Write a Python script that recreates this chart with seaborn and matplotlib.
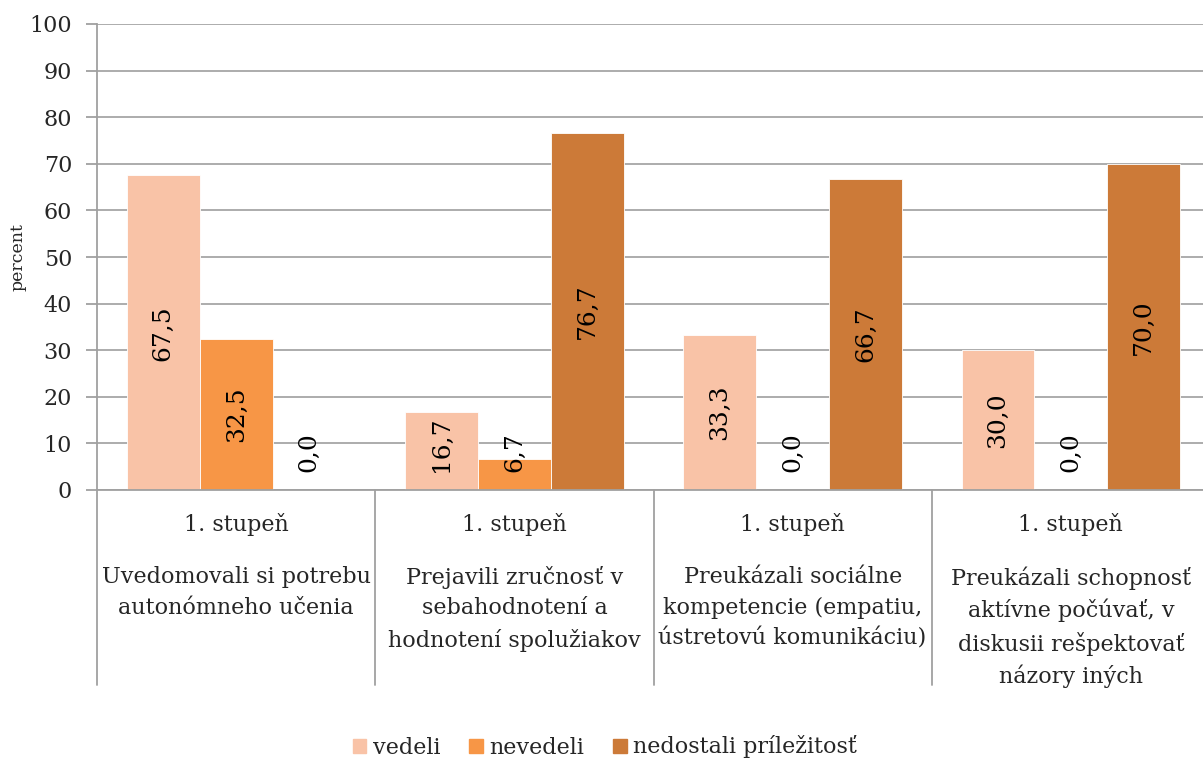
import numpy as np
import pandas as pd
import seaborn as sns
import matplotlib.pyplot as plt
import matplotlib.transforms as mtransforms

# data
categories = [
    "Uvedomovali si potrebu\nautonómneho učenia",
    "Prejavili zručnosť v\nsebahodnotení a\nhodnotení spolužiakov",
    "Preukázali sociálne\nkompetencie (empatiu,\nústretovú komunikáciu)",
    "Preukázali schopnosť\naktívne počúvať, v\ndiskusii rešpektovať\nnázory iných",
]
level = "1. stupeň"
series = ["vedeli", "nevedeli", "nedostali príležitosť"]
vedeli = [67.5, 16.7, 33.3, 30.0]
nevedeli = [32.5, 6.7, 0.0, 0.0]
nedostali = [0.0, 76.7, 66.7, 70.0]
colors = ["#F9C3A7", "#F79646", "#CC7A38"]

df = pd.DataFrame({
    "kategoria": categories * 3,
    "skupina": [s for s in series for _ in categories],
    "percent": vedeli + nevedeli + nedostali,
})

sns.set_theme(style="white")
plt.rcParams["font.family"] = ["DejaVu Serif"]
FS = 16

fig = plt.figure(figsize=(12.03, 7.62), dpi=100)
ax = fig.add_axes([97 / 1203, 1 - 490 / 762, (1210 - 97) / 1203, 466 / 762])

sns.barplot(data=df, x="kategoria", y="percent", hue="skupina",
            hue_order=series, order=categories, palette=colors,
            width=0.786, edgecolor="white", linewidth=0.6,
            saturation=1, ax=ax, legend=True)

ax.set_xlim(-0.5, 3.5)
ax.set_ylim(0, 100)
ax.set_yticks(np.arange(0, 101, 10))
ax.yaxis.grid(True, color="#A6A6A6", linewidth=1.3)
ax.set_axisbelow(True)
for s in ["top", "right"]:
    ax.spines[s].set_visible(False)
for s in ["left", "bottom"]:
    ax.spines[s].set_color("#A0A0A0")
    ax.spines[s].set_linewidth(1.3)
ax.tick_params(axis="y", direction="out", length=8, width=1.3, color="#A0A0A0",
               labelsize=FS, pad=10, left=True)
ax.set_xticks([])
ax.set_xlabel("")
ax.set_ylabel("percent", fontsize=12.5, labelpad=2)

# value labels, rotated, centered in bar but kept above the axis
fig.canvas.draw()
renderer = fig.canvas.get_renderer()
y0_disp = ax.transData.transform((0, 0))[1]
for cont in ax.containers:
    for bar in cont:
        v = bar.get_height()
        xc = bar.get_x() + bar.get_width() / 2
        t = ax.text(xc, v / 2, f"{v:.1f}".replace(".", ","), rotation=90,
                    ha="center", va="center", fontsize=18, color="black")
        bb = t.get_window_extent(renderer)
        if bb.y0 < y0_disp + 18:
            t.set_va("bottom")
            t.set_y(3.9)

# category axis drawn like a table
trans = mtransforms.blended_transform_factory(ax.transData, ax.transAxes)
bottom = -(685 - 490) / 466
for b in np.arange(-0.5, 4.0, 1.0):
    ax.plot([b, b], [0, bottom], transform=trans, color="#A0A0A0",
            lw=1.3, clip_on=False)
for i, name in enumerate(categories):
    ax.text(i, -(524 - 490) / 466, level, transform=trans, ha="center",
            va="center", fontsize=FS)
    ax.text(i, -(566 - 490) / 466, name, transform=trans, ha="center",
            va="top", fontsize=FS, linespacing=1.5)

ax.get_legend().remove()
handles = [plt.Rectangle((0, 0), 1, 1, color=c) for c in colors]
fig.legend(handles, series, loc="center", bbox_to_anchor=(0.503, 1 - 747 / 762),
           ncol=3, frameon=False, fontsize=FS, handlelength=0.6,
           handleheight=0.6, handletextpad=0.3, columnspacing=1.3)

fig.savefig("out.png", dpi=100)
